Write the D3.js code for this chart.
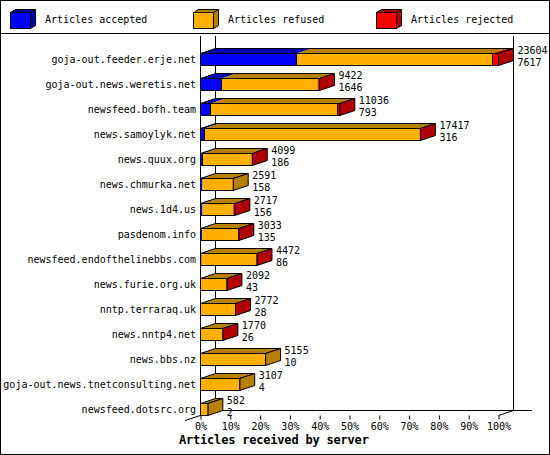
<!DOCTYPE html>
<html>
<head>
<meta charset="utf-8">
<script src="https://cdn.jsdelivr.net/npm/d3@7"></script>
<style>
  body { margin: 0; background: #fff; }
  svg text { font-family: "DejaVu Sans Mono", monospace; font-size: 10px; fill: #000; }
</style>
</head>
<body>
<svg id="chart" width="550" height="455"></svg>
<script>
// data
const servers = ['goja-out.feeder.erje.net', 'goja-out.news.weretis.net', 'newsfeed.bofh.team',
  'news.samoylyk.net', 'news.quux.org', 'news.chmurka.net', 'news.1d4.us', 'pasdenom.info',
  'newsfeed.endofthelinebbs.com', 'news.furie.org.uk', 'nntp.terraraq.uk', 'news.nntp4.net',
  'news.bbs.nz', 'goja-out.news.tnetconsulting.net', 'newsfeed.dotsrc.org']
const accepted = [7617, 1646, 793, 316, 186, 158, 156, 135, 86, 43, 28, 26, 10, 4, 2]
const refused  = [15512, 7646, 10083, 17061, 3883, 2433, 2441, 2878, 4366, 2034, 2729, 1729, 5145, 3103, 580]
const rejected = [475, 130, 160, 40, 30, 0, 120, 20, 20, 15, 15, 15, 0, 0, 0]
const seriesNames = ['Articles accepted', 'Articles refused', 'Articles rejected']
const pctTicks = [0, 10, 20, 30, 40, 50, 60, 70, 80, 90, 100]

const front = ['#0000ff', '#ffb000', '#ff0000']
const dark  = ['#0000b0', '#b88000', '#b00000']
const DX = 15, DY = 5, BH = 12

const svg = d3.select('#chart')
const W = 550, H = 455

svg.append('rect').attr('x', 0.5).attr('y', 0.5).attr('width', W - 1).attr('height', H - 1)
    .attr('fill', '#fff').attr('stroke', '#000')
svg.append('line').attr('x1', 0).attr('x2', W).attr('y1', 33.5).attr('y2', 33.5).attr('stroke', '#000')

// legend
const legX = [10, 193, 376]
seriesNames.forEach((name, i) => {
    const g = svg.append('g').attr('transform', `translate(${legX[i]},12)`)
    g.append('polygon').attr('points', '0.5,0.5 5.5,-2.5 25.5,-2.5 20.5,0.5')
        .attr('fill', dark[i]).attr('stroke', '#000')
    g.append('polygon').attr('points', '20.5,0.5 25.5,-2.5 25.5,13.5 20.5,16.5')
        .attr('fill', dark[i]).attr('stroke', '#000')
    g.append('rect').attr('x', 0.5).attr('y', 0.5).attr('width', 20).attr('height', 16)
        .attr('fill', front[i]).attr('stroke', '#000')
    g.append('text').attr('x', 35).attr('y', 11).text(name)
})

const totals = servers.map((s, i) => accepted[i] + refused[i] + rejected[i])
const x = d3.scaleLinear().domain([0, d3.max(totals)]).range([200, 498])
const xp = d3.scaleLinear().domain([0, 100]).range([200, 498])
const y = d3.scalePoint().domain(servers).range([53, 403])

// frame
const frame = svg.append('g').attr('stroke', '#000').attr('fill', 'none')
frame.append('line').attr('x1', 215.5).attr('x2', 215.5).attr('y1', 36).attr('y2', 410.5)
frame.append('line').attr('x1', 513.5).attr('x2', 513.5).attr('y1', 36).attr('y2', 410.5)
frame.append('line').attr('x1', 215).attr('x2', 532).attr('y1', 410.5).attr('y2', 410.5)
frame.append('line').attr('x1', 185).attr('x2', 215.5).attr('y1', 420.5).attr('y2', 410.5)
frame.append('line').attr('x1', 498.5).attr('x2', 513.5).attr('y1', 415.5).attr('y2', 410.5)
frame.append('line').attr('x1', 200.5).attr('x2', 200.5).attr('y1', 36).attr('y2', 415.5)

// bars
servers.forEach((s, i) => {
    const vals = [accepted[i], refused[i], rejected[i]]
    const top = y(s) + 0.5
    const g = svg.append('g')
    let acc = 0
    const segs = vals.map((v, k) => {
        const seg = {k, x0: x(acc), x1: x(acc + v), v}
        acc += v
        return seg
    }).filter(d => d.v > 0)
    const x0 = x(0) + 0.5, x1 = x(acc) + 0.5
    // top faces
    segs.forEach(d => {
        g.append('polygon')
            .attr('points', [[d.x0 + 0.5, top], [d.x1 + 0.5, top], [d.x1 + 0.5 + DX, top - DY], [d.x0 + 0.5 + DX, top - DY]].join(' '))
            .attr('fill', dark[d.k])
    })
    g.append('polygon')
        .attr('points', [[x0, top], [x1, top], [x1 + DX, top - DY], [x0 + DX, top - DY]].join(' '))
        .attr('fill', 'none').attr('stroke', '#000')
    // side face
    const last = segs[segs.length - 1]
    g.append('polygon')
        .attr('points', [[x1, top], [x1 + DX, top - DY], [x1 + DX, top - DY + BH], [x1, top + BH]].join(' '))
        .attr('fill', dark[last.k]).attr('stroke', '#000')
    // front
    segs.forEach(d => {
        g.append('rect').attr('x', d.x0 + 0.5).attr('y', top).attr('width', d.x1 - d.x0).attr('height', BH)
            .attr('fill', front[d.k])
    })
    segs.slice(1).forEach((d, j) => {
        if (d.x1 - d.x0 >= 2 && segs[j].x1 - segs[j].x0 >= 2)
            g.append('line').attr('x1', Math.round(d.x0) + 0.5).attr('x2', Math.round(d.x0) + 0.5)
                .attr('y1', top).attr('y2', top + BH).attr('stroke', '#000')
    })
    g.append('rect').attr('x', x0).attr('y', top).attr('width', x1 - x0).attr('height', BH)
        .attr('fill', 'none').attr('stroke', '#000')
    // values
    g.append('text').attr('x', x1 + 19).attr('y', top).text(totals[i])
    g.append('text').attr('x', x1 + 19).attr('y', top + 12).text(accepted[i])
    // category
    svg.append('text').attr('x', 196).attr('y', top + 9.5).attr('text-anchor', 'end').text(s)
})

// axis
const axis = d3.axisBottom(xp).tickValues(pctTicks).tickFormat(d => d + '%').tickSize(4).tickPadding(3)
const ax = svg.append('g').attr('transform', 'translate(0.5,415.5)').call(axis)
ax.select('.domain').remove()
ax.selectAll('.tick line').attr('stroke', '#000')
ax.selectAll('.tick text').attr('font-family', null).attr('font-size', null).attr('fill', '#000')

svg.append('text').attr('x', 179).attr('y', 444)
    .style('font-weight', 'bold').style('font-size', '12px').style('letter-spacing', '-0.2px')
    .text('Articles received by server')
</script>
</body>
</html>
